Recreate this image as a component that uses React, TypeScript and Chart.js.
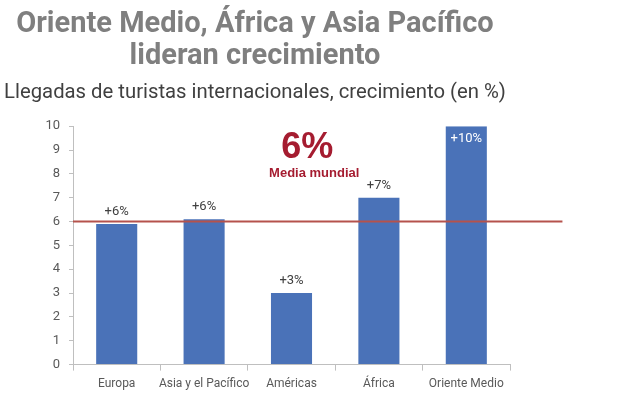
import React, { useEffect, useRef } from "react";
import { Chart, registerables } from "chart.js";

Chart.register(...registerables);

const TITLE_LINES = ["Oriente Medio, África y Asia Pacífico", "lideran crecimiento"];
const SUBTITLE = "Llegadas de turistas internacionales, crecimiento (en %)";
const CATEGORIES = ["Europa", "Asia y el Pacífico", "Américas", "África", "Oriente Medio"];
const GROWTH = [5.9, 6.1, 3.0, 7.0, 10.0];
const BAR_LABELS = ["+6%", "+6%", "+3%", "+7%", "+10%"];
const WORLD_AVG = 6;
const AVG_LABEL = "6%";
const AVG_CAPTION = "Media mundial";

const avgLinePlugin = {
  id: "avgLine",
  afterDatasetsDraw(chart: any) {
    const { ctx, chartArea, scales } = chart;
    const y = scales.y.getPixelForValue(WORLD_AVG);
    const xEnd = scales.x.getPixelForValue(CATEGORIES.length + 0.1);
    ctx.save();
    ctx.strokeStyle = "#B5524C";
    ctx.lineWidth = 2;
    ctx.beginPath();
    ctx.moveTo(chartArea.left, y);
    ctx.lineTo(xEnd, y);
    ctx.stroke();

    ctx.fillStyle = "#A51C30";
    ctx.textAlign = "center";
    ctx.textBaseline = "middle";
    ctx.font = "bold 36px 'Liberation Sans', Arial, sans-serif";
    ctx.fillText(AVG_LABEL, scales.x.getPixelForValue(2.18), scales.y.getPixelForValue(9.1));
    ctx.font = "bold 13px 'Liberation Sans', Arial, sans-serif";
    ctx.fillText(AVG_CAPTION, scales.x.getPixelForValue(2.26), scales.y.getPixelForValue(8.0));
    ctx.restore();
  },
};

const barLabelPlugin = {
  id: "barLabels",
  afterDatasetsDraw(chart: any) {
    const { ctx, chartArea } = chart;
    const meta = chart.getDatasetMeta(0);
    ctx.save();
    ctx.font = "13px Roboto, sans-serif";
    ctx.textAlign = "center";
    ctx.textBaseline = "middle";
    meta.data.forEach((bar: any, i: number) => {
      const inside = bar.y - 20 < chartArea.top;
      if (inside) {
        ctx.fillStyle = "#ffffff";
        ctx.fillText(BAR_LABELS[i], bar.x, bar.y + 13);
      } else {
        ctx.fillStyle = "#404040";
        ctx.fillText(BAR_LABELS[i], bar.x, bar.y - 12);
      }
    });
    ctx.restore();
  },
};

export default function App() {
  const ref = useRef<HTMLCanvasElement>(null);
  useEffect(() => {
    if (!ref.current) return;
    const chart = new Chart(ref.current, {
      type: "bar",
      data: {
        labels: CATEGORIES,
        datasets: [
          {
            data: GROWTH,
            backgroundColor: "#4A72B8",
            barPercentage: 0.47,
            categoryPercentage: 1,
          },
        ],
      },
      options: {
        responsive: false,
        animation: false,
        layout: { padding: { left: 0, right: 109, bottom: 2, top: 0 } },
        plugins: {
          legend: { display: false },
          tooltip: { enabled: false },
          title: {
            display: true,
            text: TITLE_LINES,
            color: "#7F7F7F",
            font: { family: "Roboto", size: 29, weight: "bold", lineHeight: 1.1 },
            padding: { top: 9, bottom: 0 },
          },
          subtitle: {
            display: true,
            text: SUBTITLE,
            color: "#404040",
            font: { family: "Roboto", size: 20.3, weight: "normal", lineHeight: 1.2 },
            padding: { top: 8, bottom: 21 },
          },
        },
        scales: {
          x: {
            grid: { display: true, drawOnChartArea: false, offset: true, tickLength: 6, color: "#BFBFBF" },
            border: { color: "#BFBFBF" },
            ticks: {
              color: "#595959",
              font: { family: "Roboto", size: 12 },
              padding: 6,
              maxRotation: 0,
              minRotation: 0,
              autoSkip: false,
            },
          },
          y: {
            min: 0,
            max: 10,
            afterFit: (scale: any) => {
              scale.width = 73;
            },
            grid: { display: true, drawOnChartArea: false, tickLength: 4, color: "#BFBFBF" },
            border: { color: "#BFBFBF" },
            ticks: { stepSize: 1, color: "#595959", font: { family: "Roboto", size: 13 }, padding: 9 },
          },
        },
      },
      plugins: [avgLinePlugin, barLabelPlugin],
    });
    return () => chart.destroy();
  }, []);
  return (
    <div style={{ position: "absolute", left: 0, top: 0, width: 619, height: 399, background: "#fff" }}>
      <canvas ref={ref} width={619} height={399} />
    </div>
  );
}
